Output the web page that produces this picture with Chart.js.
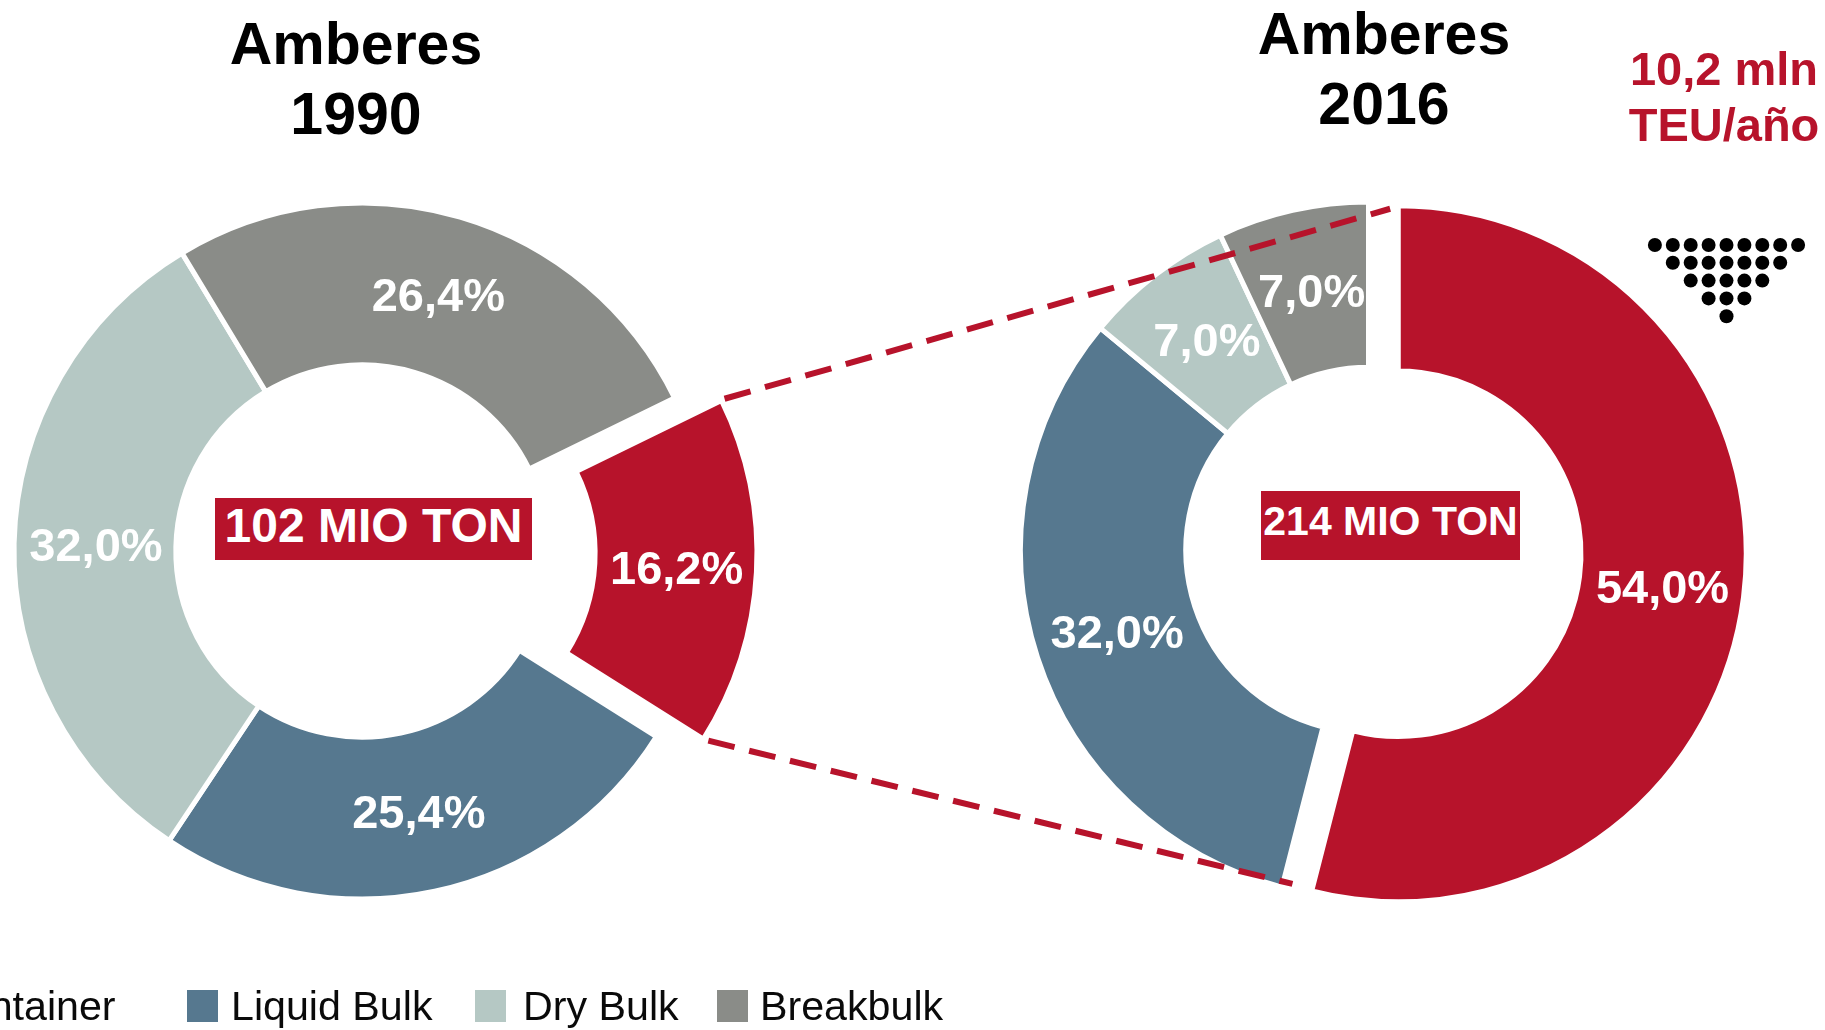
<!DOCTYPE html>
<html><head><meta charset="utf-8">
<script src="https://cdn.jsdelivr.net/npm/chart.js@4"></script>
<style>
html,body{margin:0;padding:0;background:#fff;width:1825px;height:1030px;overflow:hidden;font-family:"Liberation Sans",Arial,sans-serif}
canvas{position:absolute;left:0;top:0}
.t{position:absolute;white-space:nowrap;text-align:center;font-weight:bold;transform:translate(-50%,-50%)}
.box{position:absolute;background:#B7132B;color:#fff;font-weight:bold;display:flex;align-items:flex-start;justify-content:center;white-space:nowrap;box-sizing:border-box}
.lb{position:absolute;width:31px;height:32px;top:990px}
.lt{position:absolute;top:982px;font-size:41.2px;line-height:48px;color:#0a0a0a;white-space:nowrap}
</style></head><body>
<canvas id="c1" width="1825" height="1030"></canvas>
<canvas id="c2" width="1825" height="1030"></canvas>
<canvas id="ov" width="1825" height="1030"></canvas>
<div id="html"></div>
<script>
const categories=['Container','Liquid Bulk','Dry Bulk','Breakbulk'];
const colors=['#B7132B','#56788F','#B5C8C4','#8A8C88'];
const values1990=[16.2,25.4,32.0,26.4];
const values2016=[54.0,32.0,7.0,7.0];
const titles=[['Amberes','1990'],['Amberes','2016']];
const totals=['102 MIO TON','214 MIO TON'];
const note=['10,2 mln','TEU/año'];
const dotRows=[9,7,5,3,1];

const fmt=v=>v.toFixed(1).replace('.',',')+'%';
const FONT='"Liberation Sans",Arial,sans-serif';

// Chart.js grows an offset arc; undo that so the exploded slice keeps the ring's radii
const explode={id:'explode',afterDatasetsUpdate(ch){
  const a=ch.getDatasetMeta(0).data[0];
  const off=a.options.offset/4, ro=off*(1-Math.sin(Math.min(Math.PI,a.circumference)));
  const d=ro/(2*Math.PI*a.outerRadius);
  a.outerRadius-=ro;a.innerRadius-=ro;a.startAngle-=d;a.endAngle+=d;a.$ro=ro;
}};
const pctLabels={id:'pctLabels',afterDatasetsDraw(ch){
  const c=ch.ctx,m=ch.getDatasetMeta(0),vals=ch.data.datasets[0].data;
  c.save();c.fillStyle='#fff';c.font='bold 47px '+FONT;c.textAlign='center';c.textBaseline='middle';
  m.data.forEach((a,i)=>{
    const mid=(a.startAngle+a.endAngle)/2,
      r=(a.innerRadius+a.outerRadius)/2+(a.$ro||0)+(a.options.offset||0)/4;
    c.fillText(fmt(vals[i]),a.x+Math.cos(mid)*r+1,a.y+Math.sin(mid)*r+3);
  });
  c.restore();
}};
function donut(id,vals,rot,cut,off,padding){
  return new Chart(document.getElementById(id),{
    type:'doughnut',
    data:{labels:categories,datasets:[{data:vals,backgroundColor:colors,borderColor:'#fff',borderWidth:5,
      offset:[off,0,0,0],hoverOffset:0,clip:false}]},
    options:{responsive:false,animation:false,events:[],rotation:rot,cutout:cut,radius:348,
      layout:{padding},plugins:{legend:{display:false},tooltip:{enabled:false},title:{display:false}}},
    plugins:[explode,pctLabels]
  });
}
const ch1=donut('c1',values1990,63.9,'53.5%',188,{left:2,right:1103,top:72,bottom:0});
const ch2=donut('c2',values2016,0,'52.5%',120,{left:912,right:0,top:70,bottom:0});

// connectors between the exploded slices, taken from the arcs themselves
function corners(ch){
  const a=ch.getDatasetMeta(0).data[0],mid=(a.startAngle+a.endAngle)/2,o=a.options.offset/4,
    R=a.outerRadius+a.$ro-2,cx=a.x+Math.cos(mid)*o,cy=a.y+Math.sin(mid)*o;
  return {s:[cx+Math.cos(a.startAngle)*R,cy+Math.sin(a.startAngle)*R],
          e:[cx+Math.cos(a.endAngle)*R,cy+Math.sin(a.endAngle)*R]};
}
const ctx=document.getElementById('ov').getContext('2d');
const L=corners(ch1),Rr=corners(ch2);
ctx.strokeStyle='#B7132B';ctx.lineWidth=6;ctx.setLineDash([27,15]);
function seg(p,q,t0,t1){ctx.beginPath();
  ctx.moveTo(p[0]+(q[0]-p[0])*t0,p[1]+(q[1]-p[1])*t0);
  ctx.lineTo(p[0]+(q[0]-p[0])*t1,p[1]+(q[1]-p[1])*t1);ctx.stroke();}
seg(L.s,Rr.s,0.008,0.995);
seg(L.e,Rr.e,0.012,0.975);
// dot triangle
ctx.setLineDash([]);ctx.fillStyle='#000';
dotRows.forEach((n,r)=>{for(let k=0;k<n;k++){ctx.beginPath();
  ctx.arc(1726.5+(k-(n-1)/2)*17.9,245+r*17.8,7,0,Math.PI*2);ctx.fill();}});

// text furniture
const host=document.getElementById('html');
function add(cls,txt,css){const d=document.createElement('div');d.className=cls;d.textContent=txt;d.style.cssText=css;host.appendChild(d);return d;}
[[356,44,114],[1384,34,104]].forEach(([x,y1,y2],i)=>{
  add('t',titles[i][0],`left:${x}px;top:${y1}px;font-size:59px;color:#000`);
  add('t',titles[i][1],`left:${x}px;top:${y2}px;font-size:59px;color:#000`);
});
add('t',note[0],'left:1724px;top:68px;font-size:47px;color:#B7132B');
add('t',note[1],'left:1724px;top:124px;font-size:47px;color:#B7132B');
add('box',totals[0],'left:215px;top:498px;width:317px;height:62px;font-size:48px;line-height:54px;padding-top:1px');
add('box',totals[1],'left:1261px;top:491px;width:259px;height:69px;font-size:41px;line-height:52px;padding-top:4px');
[[-107,-63],[187,231],[475,523],[717,760]].forEach(([bx,tx],i)=>{
  add('lb','',`left:${bx}px;background:${colors[i]}`);
  add('lt',categories[i],`left:${tx}px`);
});
</script>
</body></html>
